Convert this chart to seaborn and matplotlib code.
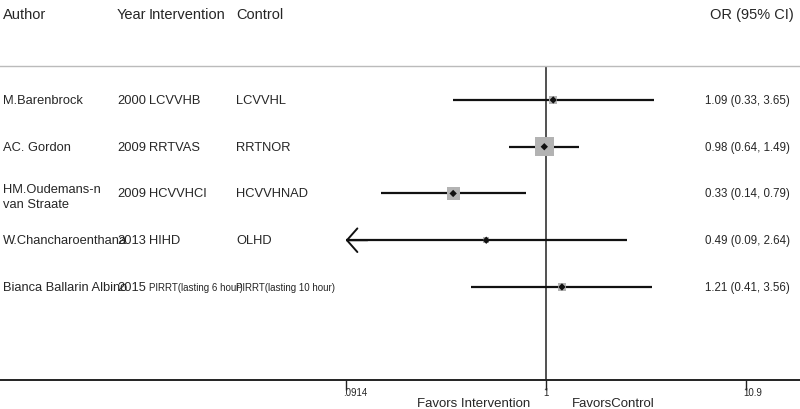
import numpy as np
import pandas as pd
import matplotlib
matplotlib.use("Agg")
import matplotlib.pyplot as plt
import seaborn as sns

authors = ["M.Barenbrock", "AC. Gordon", "HM.Oudemans-n\nvan Straate",
           "W.Chancharoenthana", "Bianca Ballarin Albino"]
years = ["2000", "2009", "2009", "2013", "2015"]
interventions = ["LCVVHB", "RRTVAS", "HCVVHCI", "HIHD", "PIRRT(lasting 6 hour)"]
controls = ["LCVVHL", "RRTNOR", "HCVVHNAD", "OLHD", "PIRRT(lasting 10 hour)"]
or_vals = [1.09, 0.98, 0.33, 0.49, 1.21]
ci_low = [0.33, 0.64, 0.14, 0.09, 0.41]
ci_high = [3.65, 1.49, 0.79, 2.64, 3.56]
weights = [7.8, 57.5, 22.9, 4.0, 8.0]
tick_vals = [0.0914, 1, 10.9]
tick_labels = [".0914", "1", "10.9"]

sns.set_style("white")
plt.rcParams['font.family'] = ['Liberation Sans', 'DejaVu Sans']

df = pd.DataFrame({"row": np.arange(len(authors)), "or": or_vals,
                   "lo": ci_low, "hi": ci_high, "w": weights})

fig = plt.figure(figsize=(8, 4.1), dpi=100)
ax = fig.add_axes([0, 29/410, 1, 314/410])
ax.set_xscale("log")
ax.set_xlim(0.001473, 20.77)
ax.set_ylim(5.99, -0.727)

lo_clip = tick_vals[0]
hi_clip = tick_vals[-1]

# reference line at 1
ax.axvline(1, color="#222222", lw=1.1, zorder=1)

# CI lines
for _, r in df.iterrows():
    lo = max(r["lo"], lo_clip)
    hi = min(r["hi"], hi_clip)
    ax.plot([lo, hi], [r["row"], r["row"]], color="#111111", lw=1.6,
            solid_capstyle="butt", zorder=2)
    if r["lo"] < lo_clip:
        ax.annotate("", xy=(lo_clip, r["row"]), xytext=(lo_clip * 1.3, r["row"]),
                    arrowprops=dict(arrowstyle="->,head_length=0.75,head_width=0.85",
                                    color="#111111", lw=1.4, shrinkA=0, shrinkB=0))

# squares by weight
ax.scatter(df["or"], df["row"], s=df["w"] * 3.3 + 8, marker="s",
           color="#b3b3b3", edgecolors="none", zorder=3)
sns.scatterplot(data=df, x="or", y="row", ax=ax, marker="D", s=14,
                color="#111111", edgecolor="none", zorder=4, legend=False)

ax.set_xlabel("")
ax.set_ylabel("")
ax.set_yticks([])
ax.set_xticks(tick_vals)
ax.set_xticklabels(tick_labels, fontsize=7)
ax.xaxis.set_minor_locator(matplotlib.ticker.NullLocator())
ax.tick_params(axis="x", direction="out", length=7, width=1, pad=-2,
               bottom=True, color="#222222")
off = matplotlib.transforms.ScaledTranslation(-3/100, 0, fig.dpi_scale_trans)
for lab in ax.get_xticklabels():
    lab.set_ha("left")
    lab.set_transform(lab.get_transform() + off)
for s in ["left", "right"]:
    ax.spines[s].set_visible(False)
ax.spines["top"].set_color("#bbbbbb")
ax.spines["top"].set_linewidth(1.0)
ax.spines["bottom"].set_color("#222222")
ax.spines["bottom"].set_linewidth(1.4)

tr = matplotlib.transforms.blended_transform_factory(fig.transFigure, ax.transData)
hy = -1.84
fs_head = 10.5
ax.text(3/800, hy, "Author", transform=tr, fontsize=fs_head, va="center", clip_on=False)
ax.text(117/800, hy, "Year", transform=tr, fontsize=fs_head, va="center", clip_on=False)
ax.text(149/800, hy, "Intervention", transform=tr, fontsize=fs_head, va="center", clip_on=False)
ax.text(236/800, hy, "Control", transform=tr, fontsize=fs_head, va="center", clip_on=False)
ax.text(794/800, hy, "OR (95% CI)", transform=tr, fontsize=fs_head, va="center",
        ha="right", clip_on=False)

fs_row = 9.3
for i in range(len(authors)):
    y = i + (0.06 if "\n" in authors[i] else 0)
    ax.text(3/800, y, authors[i], transform=tr, fontsize=fs_row, va="center",
            linespacing=1.35)
    ax.text(117/800, i, years[i], transform=tr, fontsize=fs_row, va="center")
    ax.text(149/800, i, interventions[i], transform=tr,
            fontsize=7 if len(interventions[i]) > 12 else fs_row, va="center")
    ax.text(236/800, i, controls[i], transform=tr,
            fontsize=7 if len(controls[i]) > 12 else fs_row, va="center")
    ax.text(790/800, i, f"{or_vals[i]:.2f} ({ci_low[i]:.2f}, {ci_high[i]:.2f})",
            transform=tr, fontsize=8.3, va="center", ha="right")

fy = 6.48
ax.text(530/800, fy, "Favors Intervention", transform=tr, fontsize=9.5,
        va="center", ha="right", clip_on=False)
ax.text(572/800, fy, "FavorsControl", transform=tr, fontsize=9.5,
        va="center", ha="left", clip_on=False)

fig.savefig("out.png", dpi=100)
